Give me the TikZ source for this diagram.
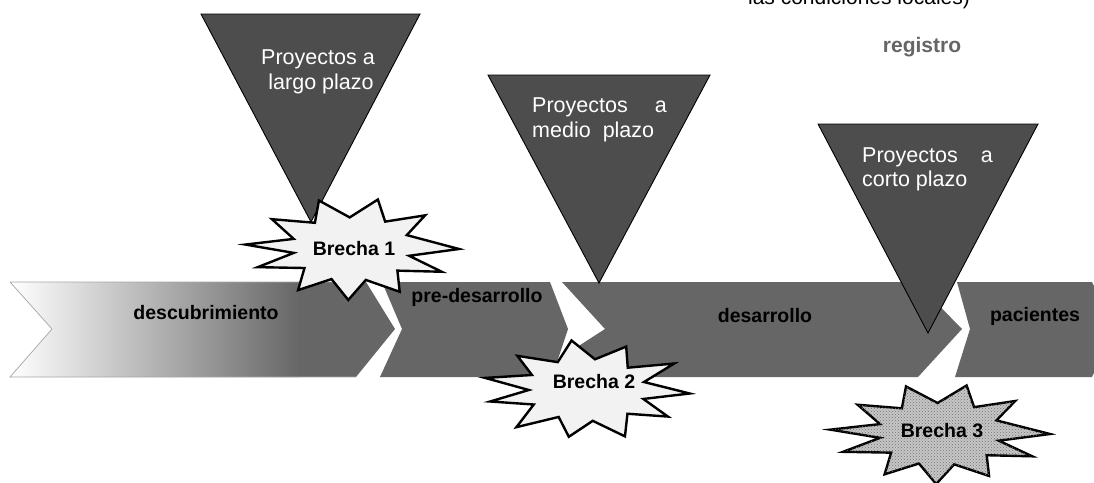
\documentclass[tikz,border=0pt]{standalone}
\usepackage{fontspec}
\setmainfont{Liberation Sans}
\usetikzlibrary{patterns}
\definecolor{chev}{HTML}{666666}
\definecolor{trifill}{HTML}{4D4D4D}
\definecolor{burstfill}{HTML}{F2F2F2}
\definecolor{regcol}{HTML}{666666}
\newcommand\burstA{(0:1.0) -- (14:0.55) -- (28:0.95) -- (45:0.6) -- (62:0.95) -- (78:0.62) -- (92:1.0) -- (108:0.62) -- (122:0.95) -- (140:0.58) -- (158:0.95) -- (172:0.55) -- (185:1.0) -- (200:0.58) -- (218:0.95) -- (236:0.62) -- (252:1.0) -- (268:0.62) -- (284:1.0) -- (300:0.62) -- (316:0.95) -- (332:0.58) -- cycle}
\newcommand\burstB{(4:1.0) -- (18:0.58) -- (34:0.95) -- (50:0.62) -- (68:1.0) -- (84:0.62) -- (100:0.95) -- (116:0.6) -- (132:1.0) -- (150:0.58) -- (166:0.95) -- (180:0.55) -- (194:1.0) -- (210:0.6) -- (226:0.95) -- (244:0.62) -- (262:1.0) -- (278:0.62) -- (294:0.95) -- (312:0.6) -- (328:1.0) -- (344:0.58) -- cycle}
\begin{document}
\begin{tikzpicture}[x=1pt,y=-1pt,
  chevron/.style={fill=chev},
  tri/.style={fill=trifill, draw=black, line width=0.9pt, line join=miter},
  tritext/.style={text=white, font=\fontsize{21.5}{25}\selectfont, inner sep=0pt, anchor=base west},
  lbl/.style={font=\bfseries\fontsize{19.5}{23}\selectfont, inner sep=0pt, anchor=base},
  burststyle/.style={draw=black, line width=2.4pt, line join=miter, fill=burstfill},
  burstdots/.style={draw=black, line width=2.4pt, line join=miter, fill=gray!45,
     postaction={pattern=crosshatch dots, pattern color=black!55}},
]
\useasboundingbox (0,0) rectangle (1094,482);
% chevron band
\begin{scope}
  \clip (10,282) -- (366,282) -- (395,329) -- (356,377) -- (10,377) -- (52,329) -- cycle;
  \shade[left color=white, right color=chev] (10,282) rectangle (300,377);
  \fill[chev] (299,282) rectangle (400,377);
\end{scope}
\draw[gray!70, line width=0.7pt] (10,282) -- (366,282) (356,377) -- (10,377) -- (52,329) -- (10,282);
\fill[chevron] (382,282) -- (550,282) -- (568,329) -- (552,377) -- (380,377) -- (402,329) -- cycle;
\fill[chevron] (562,282) -- (916,282) -- (962,329) -- (918,377) -- (548,377) -- (560,358) -- (605,329) -- cycle;
\fill[chevron] (957,282) -- (1092,282) -- (1115,329) -- (1092,377) -- (955,377) -- (970,329) -- cycle;
% triangles
\draw[tri] (201,14) -- (420,14) -- (311,222) -- cycle;
\draw[tri] (488,75) -- (710,75) -- (599,283) -- cycle;
\draw[tri] (818,124) -- (1038,124) -- (928,333) -- cycle;
% bursts
\draw[burststyle, shift={(352,249)}, xscale=107, yscale=51] \burstA;
\draw[burststyle, shift={(586,390)}, xscale=104, yscale=50] \burstB;
\draw[burstdots, shift={(940,434)}, xscale=110, yscale=50] \burstA;
% texts
\node[font=\fontsize{21}{25}\selectfont, inner sep=0pt, anchor=base] (top) at (859,4) {las condiciones locales)};
\node[font=\bfseries\fontsize{21}{25}\selectfont, text=regcol, inner sep=0pt, anchor=base] (reg) at (922,52) {registro};
\node[tritext, anchor=base] (t1a) at (318,64) {Proyectos a};
\node[tritext, anchor=base] (t1b) at (321,89) {largo plazo};
\node[tritext] (t2a) at (532,112) {Proyectos\hspace{27pt}a};
\node[tritext] (t2b) at (532,137) {medio\hspace{12pt}plazo};
\node[tritext] (t3a) at (862,162) {Proyectos\hspace{23pt}a};
\node[tritext] (t3b) at (862,186) {corto plazo};
\node[lbl] (c1) at (206,319) {descubrimiento};
\node[lbl] (c2) at (477,302) {pre-desarrollo};
\node[lbl] (c3) at (765,322) {desarrollo};
\node[lbl] (c4) at (1035,321) {pacientes};
\node[lbl] (b1) at (354,255) {Brecha 1};
\node[lbl] (b2) at (594,388) {Brecha 2};
\node[lbl] (b3) at (942,437) {Brecha 3};
\end{tikzpicture}
\end{document}
